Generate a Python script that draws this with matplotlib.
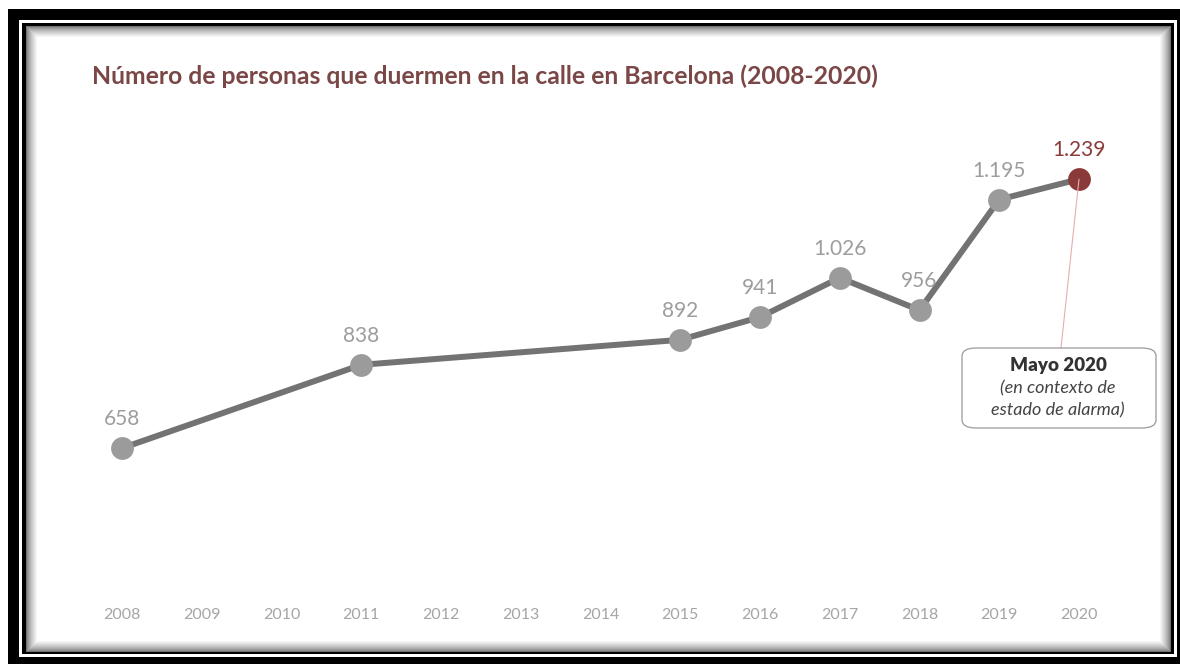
import matplotlib
matplotlib.use("Agg")
import matplotlib.pyplot as plt
from matplotlib.patches import Rectangle, FancyBboxPatch

plt.rcParams['font.family'] = ['Lato', 'DejaVu Sans']

years = [2008, 2011, 2015, 2016, 2017, 2018, 2019, 2020]
personas = [658, 838, 892, 941, 1026, 956, 1195, 1239]
etiquetas = ['658', '838', '892', '941', '1.026', '956', '1.195', '1.239']
ticks = list(range(2008, 2021))

W, H = 1180, 664
fig = plt.figure(figsize=(W / 100, H / 100), dpi=100, facecolor='white')


def rect(x0, y0, x1, y1, **kw):
    # rectangle in pixel coords measured from the top-left
    fig.add_artist(Rectangle((x0 / W, 1 - y1 / H), (x1 - x0) / W, (y1 - y0) / H,
                             transform=fig.transFigure, zorder=-5, **kw))


# marco negro doble con sombra interior
rect(8, 9, 1180, 664, facecolor='black', edgecolor='none')
rect(19, 20, 1177, 657, facecolor='white', edgecolor='none')
rect(22, 23, 1174, 654, facecolor='black', edgecolor='none')
rect(26, 26, 1170, 651, facecolor='white', edgecolor='none')
for i in range(12):
    g = 0.45 + 0.55 * (i / 11) ** 0.7
    rect(26 + i, 26 + i, 1170 - i, 651 - i, facecolor='none',
         edgecolor=(g, g, g), linewidth=0.75)

ax = fig.add_axes([90.1 / W, 64 / H, 1020.8 / W, 500 / H])
ax.set_zorder(2)
ax.set_facecolor('none')
ax.set_xlim(2007.6, 2020.4)
ax.set_ylim(330, 1410)

ax.plot(years, personas, color='#737373', linewidth=4.3, zorder=2)
ax.scatter(years[:-1], personas[:-1], s=270, color='#9b9b9b', zorder=3, linewidths=0)
ax.scatter(years[-1:], personas[-1:], s=270, color='#8b3a3a', zorder=3, linewidths=0)

for x, y, t in zip(years, personas, etiquetas):
    c = '#8b3a3a' if x == 2020 else '#9d9d9d'
    ax.annotate(t, (x, y), xytext=(0, 13.5), textcoords='offset points',
                ha='center', va='bottom', fontsize=15, color=c)

ax.set_xticks(ticks)
ax.set_xticklabels([str(t) for t in ticks])
ax.tick_params(axis='x', length=0, pad=6, labelsize=11.5, labelcolor='#a5a5a5')
ax.set_yticks([])
for s in ax.spines.values():
    s.set_visible(False)

fig.text(92 / W, 1 - 76 / H,
         'Número de personas que duermen en la calle en Barcelona (2008-2020)',
         ha='left', va='center', fontsize=17.8, fontweight='bold', color='#7a4646')

# nota mayo 2020
ax.annotate('', xy=(2020, 1239), xytext=(1061, H - 348), textcoords='figure pixels',
            arrowprops=dict(arrowstyle='-', color='#e3b0b0', lw=0.8,
                            shrinkA=0, shrinkB=0))
box = FancyBboxPatch((962 / W, 1 - 428 / H), 194 / W, 80 / H,
                     boxstyle='round,pad=0,rounding_size=0.012',
                     transform=fig.transFigure, facecolor='white',
                     edgecolor='#9a9a9a', linewidth=0.9, zorder=3)
fig.add_artist(box)
fig.text(1058 / W, 1 - 366 / H, 'Mayo 2020', ha='center', va='center',
         fontsize=13.5, fontweight='heavy', color='#333333', zorder=4)
fig.text(1058 / W, 1 - 388 / H, '(en contexto de', ha='center', va='center',
         fontsize=13, style='italic', color='#444444', zorder=4)
fig.text(1058 / W, 1 - 410 / H, 'estado de alarma)', ha='center', va='center',
         fontsize=13, style='italic', color='#444444', zorder=4)

fig.savefig('out.png', dpi=100, facecolor='white')
